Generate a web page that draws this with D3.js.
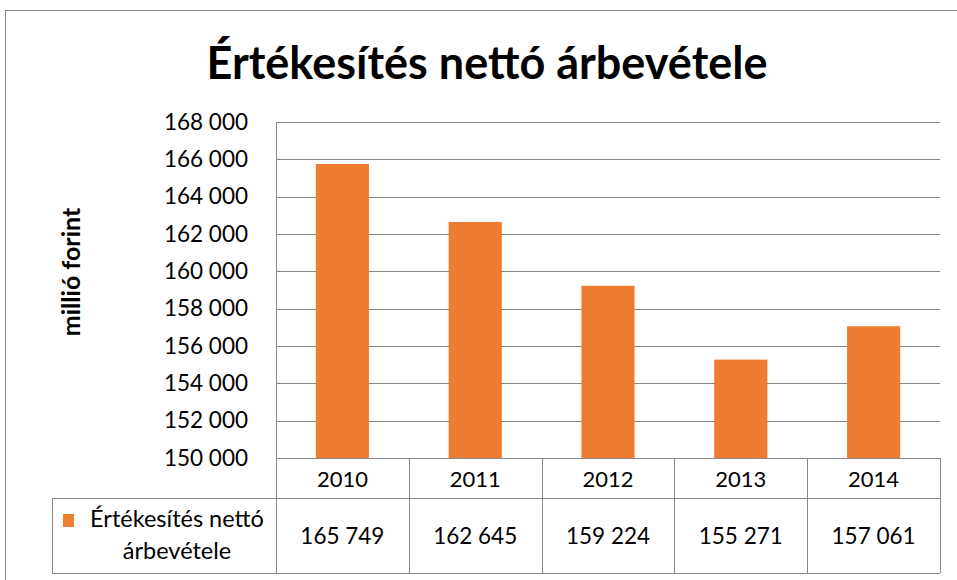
<!DOCTYPE html>
<html><head><meta charset="utf-8">
<script src="https://cdn.jsdelivr.net/npm/d3@7"></script>
<style>body{margin:0;background:#fff;} svg{display:block;font-family:Lato,"Open Sans",sans-serif;}</style>
</head><body>
<svg id="c" width="957" height="580"></svg>
<script>
const title = "Értékesítés nettó árbevétele";
const yAxisTitle = "millió forint";
const categories = ["2010","2011","2012","2013","2014"];
const values = [165749,162645,159224,155271,157061];
const seriesName = ["Értékesítés nettó","árbevétele"];
const yTicks = [150000,152000,154000,156000,158000,160000,162000,164000,166000,168000];

const svg = d3.select("#c");
const L=276, R=940, T=122, B=458, rowH=40, row2B=573, legL=52;
const fmt = v => d3.format(",")(v).replace(/,/g," ");

svg.append("rect").attr("x",5.5).attr("y",10.5).attr("width",980).attr("height",600)
  .attr("fill","#fff").attr("stroke","#888");

svg.append("text").attr("x",487).attr("y",79).attr("text-anchor","middle")
  .attr("font-weight","bold").attr("font-size",45).attr("fill","#000").text(title);

const y = d3.scaleLinear().domain([150000,168000]).range([B,T]);
const x = d3.scaleBand().domain(categories).range([L,R]).padding(0);

// gridlines
svg.append("g").selectAll("line").data(yTicks).join("line")
  .attr("x1",L).attr("x2",R).attr("y1",d=>Math.round(y(d))+0.5).attr("y2",d=>Math.round(y(d))+0.5)
  .attr("stroke","#868686").attr("stroke-width",1);

// y axis labels
const ya = svg.append("g").attr("transform",`translate(${L},0)`)
  .call(d3.axisLeft(y).tickValues(yTicks).tickFormat(fmt).tickSize(0).tickPadding(28));
ya.select(".domain").attr("stroke","#868686");
ya.selectAll("text").attr("font-size",22.5).attr("fill","#000").attr("font-family","Lato,sans-serif");

// bars
const bw = x.bandwidth()*0.4;
svg.append("g").selectAll("rect").data(values).join("rect")
  .attr("x",(d,i)=>x(categories[i])+(x.bandwidth()-bw)/2)
  .attr("width",bw)
  .attr("y",d=>y(d)).attr("height",d=>B-y(d))
  .attr("fill","#ED7D31");

// table
const tg = svg.append("g").attr("stroke","#898989").attr("fill","none");
const hy = B+rowH;
tg.append("line").attr("x1",L).attr("x2",R).attr("y1",B+0.5).attr("y2",B+0.5);
tg.append("line").attr("x1",legL).attr("x2",R).attr("y1",hy+0.5).attr("y2",hy+0.5);
tg.append("line").attr("x1",legL).attr("x2",R).attr("y1",row2B+0.5).attr("y2",row2B+0.5);
tg.append("line").attr("x1",legL+0.5).attr("x2",legL+0.5).attr("y1",hy).attr("y2",row2B);
const bounds = categories.map(c=>x(c)).concat([R]);
tg.selectAll("line.v").data(bounds).join("line").attr("class","v")
  .attr("x1",d=>Math.round(d)+0.5).attr("x2",d=>Math.round(d)+0.5)
  .attr("y1",d=>d===L?T:B).attr("y2",row2B);

svg.append("g").selectAll("text").data(categories).join("text")
  .attr("x",d=>x(d)+x.bandwidth()/2).attr("y",B+29).attr("text-anchor","middle")
  .attr("font-size",22).attr("fill","#000").text(d=>d);
svg.append("g").selectAll("text").data(values).join("text")
  .attr("x",(d,i)=>x(categories[i])+x.bandwidth()/2).attr("y",hy+46).attr("text-anchor","middle")
  .attr("font-size",22.5).attr("fill","#000").text(d=>fmt(d));

// legend key
svg.append("rect").attr("x",63).attr("y",514).attr("width",11).attr("height",13).attr("fill","#ED7D31");
svg.append("g").selectAll("text").data(seriesName).join("text")
  .attr("x",177).attr("y",(d,i)=>527+i*32).attr("text-anchor","middle")
  .attr("font-size",23.5).attr("fill","#000").text(d=>d);

// y axis title
svg.append("text").attr("transform","translate(80,272) rotate(-90)").attr("text-anchor","middle")
  .attr("font-weight","bold").attr("font-size",25).attr("fill","#000").text(yAxisTitle);
</script>
</body></html>
